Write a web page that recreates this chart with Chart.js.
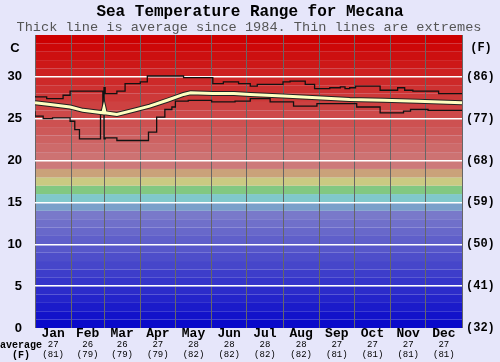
<!DOCTYPE html>
<html>
<head>
<meta charset="utf-8">
<script src="https://cdn.jsdelivr.net/npm/chart.js@4"></script>
<style>
  html, body { margin: 0; padding: 0; background: #e6e6fa; }
  #wrap { width: 500px; height: 362px; }
</style>
</head>
<body>
<div id="wrap"><canvas id="chart" width="500" height="362"></canvas></div>
<script>
// month layout
const months = ["Jan", "Feb", "Mar", "Apr", "May", "Jun", "Jul", "Aug", "Sep", "Oct", "Nov", "Dec"];
const monthStarts = [0, 31, 59, 90, 120, 151, 181, 212, 243, 273, 304, 334, 365];
const monthAvgC = [27, 26, 26, 27, 28, 28, 28, 28, 27, 27, 27, 27];
const monthAvgF = [81, 79, 79, 79, 82, 82, 82, 82, 81, 81, 81, 81];

// y ticks
const yTicks = [0, 5, 10, 15, 20, 25, 30];

// daily extremes (day of year, deg C)
const maxDays = [0, 10, 24, 30, 40, 58, 59, 60, 70, 77, 90, 96, 127, 152, 161, 174, 184, 190, 212, 218, 231, 239, 252, 261, 265, 269, 274, 295, 310, 316, 323, 345, 359, 365];
const maxTemp = [27.7, 27.6, 27.4, 27.8, 28.3, 28.3, 26.1, 28.7, 28.0, 28.3, 29.2, 29.4, 30.1, 29.9, 29.2, 29.4, 29.2, 28.9, 29.1, 29.4, 29.5, 29.1, 28.6, 28.7, 28.8, 28.6, 28.7, 28.9, 28.4, 28.7, 28.4, 28.3, 28.0, 28.0];

const minDays = [0, 7, 15, 30, 34, 38, 56, 59, 60, 70, 97, 104, 111, 117, 120, 131, 151, 171, 184, 201, 221, 241, 275, 295, 315, 321, 336, 357, 365];
const minTemp = [25.9, 25.3, 25.0, 25.1, 24.7, 23.7, 22.6, 26.0, 22.6, 22.7, 22.4, 23.4, 25.2, 26.1, 26.4, 27.1, 27.2, 27.0, 27.1, 27.4, 27.0, 26.5, 26.8, 26.4, 25.7, 25.9, 26.1, 26.0, 26.0];

const avgDays = [0, 13, 30, 41, 58, 59, 60, 70, 84, 98, 113, 127, 133, 152, 170, 184, 212, 241, 269, 298, 327, 365];
const avgTemp = [26.9, 26.7, 26.4, 26.0, 25.7, 26.3, 25.7, 25.5, 26.0, 26.5, 27.2, 27.9, 28.1, 28.0, 28.0, 27.9, 27.7, 27.5, 27.3, 27.2, 27.1, 26.9];

const toPts = (xs, ys) => xs.map((d, i) => ({ x: d, y: ys[i] }));

const bandColor = (t) => {
  if (t <= 13) {
    const c = Math.round(10 + t * 8.5);
    return `rgb(${c},${c},202)`;
  }
  if (t === 14) return "rgb(122,160,202)";
  if (t === 15) return "rgb(128,200,204)";
  if (t === 16) return "rgb(130,200,130)";
  if (t === 17) return "rgb(202,202,130)";
  if (t === 18) return "rgb(202,162,122)";
  const g = Math.round(122 * (34 - t) / 15);
  return `rgb(205,${g},${g})`;
};

const backdrop = {
  id: "backdrop",
  beforeDraw(chart) {
    const { ctx, chartArea: a, scales } = chart;
    ctx.save();
    ctx.fillStyle = "#e6e6fa";
    ctx.fillRect(0, 0, chart.width, chart.height);
    for (let t = 0; t < 35; t++) {
      const y1 = scales.y.getPixelForValue(t + 1);
      const y0 = scales.y.getPixelForValue(t);
      ctx.fillStyle = bandColor(t);
      ctx.fillRect(a.left, y1, a.right - a.left, y0 - y1);
    }
    ctx.restore();
  },
  afterDraw(chart) {
    const { ctx, scales } = chart;
    ctx.save();
    ctx.fillStyle = "#000";
    ctx.textAlign = "center";
    ctx.textBaseline = "middle";
    ctx.font = "bold 16px 'Liberation Mono'";
    ctx.fillText("Sea Temperature Range for Mecana", 250, 12);
    ctx.fillStyle = "#555";
    ctx.font = "13.6px 'Liberation Mono'";
    ctx.fillText("Thick line is average since 1984. Thin lines are extremes", 249, 27);

    ctx.fillStyle = "#000";
    ctx.font = "bold 13px 'Liberation Sans'";
    ctx.fillText("C", 15, 48);
    ctx.font = "bold 12px 'Liberation Mono'";
    ctx.fillText("(F)", 481, 48);

    months.forEach((m, i) => {
      const x = scales.x.getPixelForValue((monthStarts[i] + monthStarts[i + 1]) / 2);
      ctx.font = "bold 13px 'Liberation Mono'";
      ctx.fillText(m, x, 334);
      ctx.font = "9px 'Liberation Mono'";
      ctx.fillText(String(monthAvgC[i]), x, 345);
      ctx.fillText("(" + monthAvgF[i] + ")", x, 355);
    });
    ctx.font = "bold 10px 'Liberation Mono'";
    ctx.fillText("average", 21, 345);
    ctx.fillText("(F)", 21, 355);
    ctx.restore();
  }
};

new Chart(document.getElementById("chart"), {
  type: "line",
  data: {
    datasets: [
      {
        data: toPts(maxDays, maxTemp),
        borderColor: "#111",
        borderWidth: 1.3,
        stepped: "after",
        pointRadius: 0
      },
      {
        data: toPts(minDays, minTemp),
        borderColor: "#111",
        borderWidth: 1.3,
        stepped: "after",
        pointRadius: 0
      },
      {
        data: toPts(avgDays, avgTemp),
        borderColor: "#ffffc0",
        borderWidth: 3,
        pointRadius: 0,
        order: -2
      },
      {
        data: toPts(avgDays, avgTemp),
        borderColor: "#222",
        borderWidth: 5,
        pointRadius: 0,
        order: -1
      }
    ]
  },
  options: {
    responsive: false,
    animation: false,
    events: [],
    layout: { padding: { top: 35, left: 0, right: 0, bottom: 0 } },
    plugins: { legend: { display: false }, tooltip: { enabled: false } },
    scales: {
      x: {
        type: "linear",
        min: 0,
        max: 365,
        afterBuildTicks: (s) => { s.ticks = monthStarts.map((v) => ({ value: v })); },
        afterFit: (s) => { s.height = 34; },
        ticks: { display: false },
        grid: { color: "#666", lineWidth: 1, drawTicks: false },
        border: { display: false }
      },
      y: {
        min: 0,
        max: 35,
        afterBuildTicks: (s) => { s.ticks = yTicks.map((v) => ({ value: v })); },
        afterFit: (s) => { s.width = 35; },
        ticks: {
          color: "#000",
          padding: 13,
          font: { family: "'Liberation Sans'", size: 13, weight: "bold" }
        },
        grid: { color: (c) => (c.tick.value === 0 ? "rgba(0,0,0,0)" : "#fff"), lineWidth: 1.5, drawTicks: false },
        border: { display: false }
      },
      yF: {
        position: "right",
        min: 0,
        max: 35,
        afterBuildTicks: (s) => { s.ticks = yTicks.map((v) => ({ value: v })); },
        afterFit: (s) => { s.width = 38; },
        ticks: {
          color: "#000",
          padding: 4,
          font: { family: "'Liberation Mono'", size: 12, weight: "bold" },
          callback: (v) => "(" + Math.round(v * 9 / 5 + 32) + ")"
        },
        grid: { display: false, drawTicks: false },
        border: { display: false }
      }
    }
  },
  plugins: [backdrop]
});
</script>
</body>
</html>
